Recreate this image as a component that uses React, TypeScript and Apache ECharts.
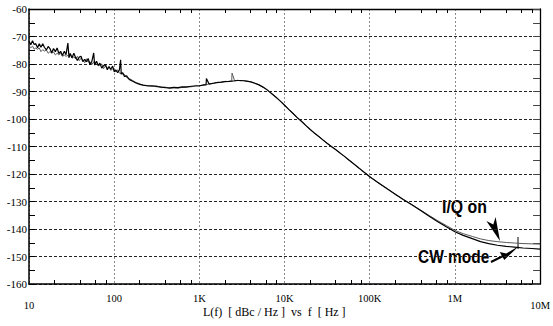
import { useEffect, useRef } from "react";
import * as echarts from "echarts";

// Offset frequency (Hz), noisy low-frequency part
const lowFreqs = [10, 10.5, 11, 11.5, 12, 12.6, 13.2, 13.8, 14.5, 15.2, 16, 16.8, 17.6, 18.5, 19.4, 20.4, 21.4, 22.4, 23.5, 24.7, 26, 27.2, 28.6, 29.5, 30.5, 32, 33.6, 35.3, 37, 38.9, 40.8, 42.8, 45, 47.2, 49.5, 52, 54.6, 57.5, 59, 62, 65, 68, 71.5, 75, 79, 83, 87, 91, 96, 100, 105, 110, 115, 119, 121, 126, 132, 140, 150];
const cwLow = [-71.6, -73.0, -71.5, -72.9, -72.6, -74.1, -72.6, -73.9, -72.6, -74.0, -74.9, -73.6, -74.4, -75.9, -74.4, -75.5, -74.2, -76.2, -75.4, -76.9, -75.4, -76.6, -72.4, -77.6, -76.2, -77.7, -76.1, -77.7, -78.7, -77.5, -77.2, -79.1, -78.3, -79.2, -78.0, -80.3, -79.1, -76.0, -80.4, -79.0, -80.5, -79.7, -81.5, -80.6, -80.2, -82.1, -81.0, -81.9, -80.8, -82.8, -82.2, -83.2, -82.2, -78.5, -83.6, -83.2, -84.5, -84.3, -85.6];
const iqLow = [-73.3, -74.1, -73.5, -74.6, -74.2, -74.6, -74.2, -75.5, -74.8, -75.3, -74.9, -76.1, -75.5, -76.1, -75.6, -76.7, -76.1, -76.7, -76.1, -77.2, -76.8, -77.2, -76.8, -77.7, -76.5, -77.9, -77.4, -78.1, -77.2, -78.8, -77.9, -78.7, -79.5, -78.1, -79.3, -79.1, -80.2, -79.2, -80.2, -79.2, -80.7, -80.4, -80.0, -81.7, -80.7, -81.6, -80.8, -82.3, -81.8, -81.6, -82.9, -82.1, -83.1, -83.7, -83.0, -83.8, -83.8, -84.9, -85.3];

// Offset frequency (Hz), smoother upper part
const highFreqs = [165, 180, 200, 220, 250, 280, 320, 360, 400, 450, 500, 560, 630, 710, 800, 900, 1000, 1100, 1200, 1210, 1300, 1450, 1600, 1800, 2000, 2200, 2400, 2420, 2600, 2800, 3000, 3300, 3600, 4000, 4500, 5000, 5600, 6300, 7100, 8000, 9000, 10000, 11200, 12500, 14000, 16000, 18000, 20000, 22400, 25000, 28000, 31500, 35500, 40000, 45000, 50000, 56000, 63000, 71000, 80000, 90000, 100000, 125000, 160000, 200000, 250000, 315000, 400000, 500000, 630000, 800000, 1000000, 1250000, 1600000, 2000000, 2500000, 3150000, 4000000, 5000000, 6300000, 8000000, 10000000];
const cwHigh = [-86.3, -86.9, -87.4, -87.7, -88.0, -87.9, -88.2, -88.4, -88.6, -88.7, -88.5, -88.6, -88.3, -88.4, -88.1, -88.0, -87.9, -87.7, -87.5, -85.3, -87.3, -87.0, -86.8, -86.6, -86.4, -86.3, -86.2, -86.1, -86.1, -86.0, -86.0, -86.1, -86.2, -86.5, -87.0, -87.6, -88.4, -89.5, -90.8, -92.2, -93.6, -95.0, -96.5, -97.9, -99.4, -101.0, -102.5, -103.8, -105.1, -106.3, -107.5, -108.8, -110.0, -111.2, -112.4, -113.5, -114.7, -116.0, -117.3, -118.6, -119.8, -121.0, -123.1, -125.4, -127.4, -129.4, -131.3, -133.4, -135.4, -137.4, -139.3, -141.0, -142.3, -143.5, -144.6, -145.3, -145.9, -146.3, -146.6, -146.9, -147.1, -147.3];
const iqHigh = [-86.0, -86.7, -87.2, -87.8, -87.8, -88.1, -88.0, -88.6, -88.4, -88.9, -88.6, -88.8, -88.5, -88.2, -88.3, -87.8, -88.0, -87.6, -87.6, -87.5, -87.2, -87.1, -86.7, -86.7, -86.3, -86.4, -86.1, -83.3, -86.2, -85.9, -86.1, -86.0, -86.3, -86.4, -87.1, -87.5, -88.5, -89.4, -90.9, -92.1, -93.7, -94.9, -96.6, -97.8, -99.5, -100.9, -102.6, -103.7, -105.2, -106.2, -107.6, -108.7, -110.1, -111.1, -112.5, -113.4, -114.8, -115.9, -117.4, -118.5, -119.9, -120.9, -123.2, -125.3, -127.5, -129.3, -131.2, -133.2, -135.1, -137.0, -138.8, -140.5, -141.7, -142.7, -143.6, -144.2, -144.6, -144.9, -145.1, -145.3, -145.4, -145.5];

const xDecades = [10, 100, 1e3, 1e4, 1e5, 1e6, 1e7];
const xLabels = ["10", "100", "1K", "10K", "100K", "1M", "10M"];
const minorMultipliers = [2, 4, 6, 8];
const yMin = -160;
const yMax = -60;
const yStep = 10;

const seriesNames = ["I/Q on", "CW mode"];
const axisTitle = "L(f)  [ dBc / Hz ]  vs  f  [ Hz ]";

export default function App() {
  const ref = useRef<HTMLDivElement>(null);
  useEffect(() => {
    const chart = echarts.init(ref.current!, null, { renderer: "svg" });
    const freqs = [...lowFreqs, ...highFreqs];
    const cw = [...cwLow, ...cwHigh];
    const iq = [...iqLow, ...iqHigh];

    // Fine log-spaced category grid (0.005 decade) used only to place minor x ticks.
    const logLo = Math.log10(xDecades[0]);
    const logHi = Math.log10(xDecades[xDecades.length - 1]);
    const step = 0.005;
    const nCat = Math.round((logHi - logLo) / step) + 1;
    const cats = Array.from({ length: nCat }, (_, i) => String(i));
    const tickIdx = new Set<number>();
    xDecades.forEach((d, i) => {
      if (i < xDecades.length - 1)
        minorMultipliers.forEach((m) => tickIdx.add(Math.round((Math.log10(d * m) - logLo) / step)));
    });
    const tickCatAxis = (position: string) => ({
      type: "category",
      data: cats,
      boundaryGap: false,
      position,
      axisLine: { show: false, onZero: false },
      axisLabel: { show: false },
      splitLine: { show: false },
      axisTick: {
        show: true,
        inside: true,
        length: 4,
        interval: (index: number) => tickIdx.has(index),
        lineStyle: { color: "#000", width: 1 },
      },
    });

    const serif = "'Liberation Serif', 'Times New Roman', serif";
    const labelFont = { fontFamily: serif, fontSize: 10.5, color: "#000" };
    chart.setOption({
      animation: false,
      grid: { left: 29, top: 9, width: 514, height: 275, containLabel: false },
      xAxis: [
        {
          type: "log",
          logBase: 10,
          min: 10,
          max: 1e7,
          position: "bottom",
          axisLine: { show: true, onZero: false, lineStyle: { color: "#000", width: 1.5 } },
          axisTick: { show: false },
          axisLabel: {
            ...labelFont,
            margin: 9,
            showMinLabel: true,
            showMaxLabel: true,
            formatter: (v: number) => {
              const i = Math.round(Math.log10(v)) - 1;
              const t = xLabels[i] ?? "";
              return i === 0 || i === xLabels.length - 1 ? `{lo|${t}}` : t;
            },
            rich: { lo: { ...labelFont, padding: [7, 0, 0, 0] } },
          },
          splitLine: { show: true, lineStyle: { color: "#8a8a8a", type: [2, 2], width: 1 } },
        },
        {
          type: "log",
          logBase: 10,
          min: 10,
          max: 1e7,
          position: "top",
          axisLine: { show: true, onZero: false, lineStyle: { color: "#000", width: 1.3 } },
          axisTick: { show: false },
          axisLabel: { show: false },
          splitLine: { show: false },
        },
        tickCatAxis("bottom"),
        tickCatAxis("top"),
      ],
      yAxis: [
        {
          type: "value",
          min: yMin,
          max: yMax,
          interval: yStep,
          axisLine: { show: true, onZero: false, lineStyle: { color: "#000", width: 1.5 } },
          axisTick: { show: true, inside: true, length: 6, lineStyle: { color: "#000" } },
          minorTick: { show: true, splitNumber: 2, length: 6, lineStyle: { color: "#000", width: 1 } },
          axisLabel: { ...labelFont, fontSize: 11, margin: 2 },
          splitLine: { show: true, lineStyle: { color: "#222", type: [3, 2], width: 1 } },
        },
        {
          type: "value",
          min: yMin,
          max: yMax,
          interval: yStep,
          position: "right",
          axisLine: { show: true, onZero: false, lineStyle: { color: "#000", width: 1.3 } },
          axisTick: { show: true, inside: true, length: 7, lineStyle: { color: "#444" } },
          minorTick: { show: true, splitNumber: 2, length: 7, lineStyle: { color: "#444", width: 1 } },
          axisLabel: { show: false },
          splitLine: { show: false },
        },
      ],
      series: [
        {
          name: seriesNames[0],
          type: "line",
          showSymbol: false,
          xAxisIndex: 0,
          yAxisIndex: 0,
          data: freqs.map((f, i) => [f, iq[i]]),
          lineStyle: { color: "#5a5a5a", width: 1 },
        },
        {
          name: seriesNames[1],
          type: "line",
          showSymbol: false,
          xAxisIndex: 0,
          yAxisIndex: 0,
          data: freqs.map((f, i) => [f, cw[i]]),
          lineStyle: { color: "#000", width: 1.2 },
        },
      ],
      graphic: [
        { type: "text", x: 203, y: 306, style: { text: axisTitle, font: `12px ${serif}`, fill: "#000" } },
        {
          type: "text", x: 442, y: 207, scaleX: 0.88,
          style: { text: seriesNames[0], font: "bold 18px 'Liberation Sans', Arial, sans-serif", fill: "#000", verticalAlign: "middle" },
        },
        {
          type: "text", x: 418, y: 257, scaleX: 0.86,
          style: { text: seriesNames[1], font: "bold 18px 'Liberation Sans', Arial, sans-serif", fill: "#000", verticalAlign: "middle" },
        },
        { type: "polygon", shape: { points: [[486.4, 220.9], [493.3, 224.5], [495.6, 217.1], [500, 241]] }, style: { fill: "#000" } },
        { type: "polygon", shape: { points: [[499.7, 252.1], [506.3, 253.5], [519, 246], [504.3, 259.9]] }, style: { fill: "#000" } },
        { type: "line", shape: { x1: 491, y1: 262, x2: 504, y2: 255.5 }, style: { stroke: "#000", lineWidth: 2 } },
        { type: "line", shape: { x1: 518, y1: 237, x2: 518, y2: 249 }, style: { stroke: "#000", lineWidth: 1 } },
      ],
    });
    return () => chart.dispose();
  }, []);
  return <div ref={ref} style={{ position: "absolute", left: 0, top: 0, width: 553, height: 326 }} />;
}
